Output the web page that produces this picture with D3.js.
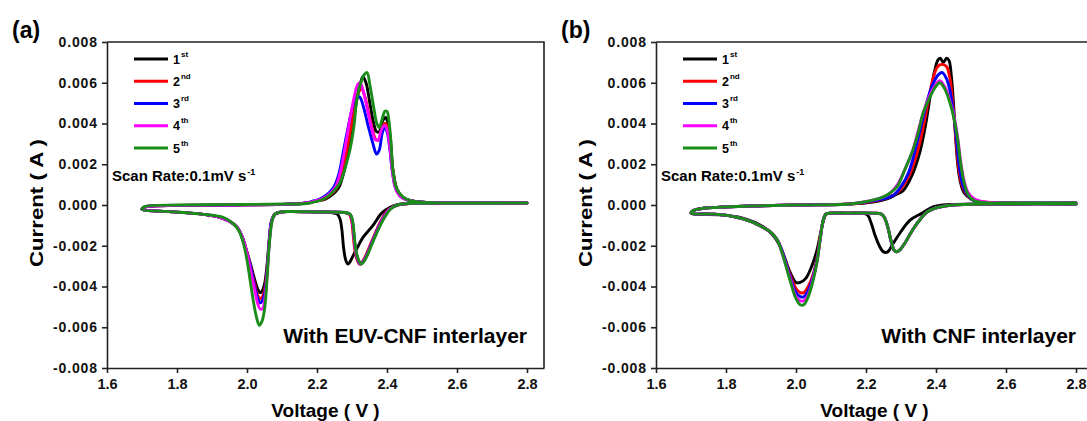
<!DOCTYPE html>
<meta charset="utf-8">
<title>CV curves - EUV-CNF vs CNF interlayer</title>
<style>

body { margin: 0; background: #fff; }

svg {
  display: block;
  font-family: "Liberation Sans", Arial, sans-serif;
  font-weight: bold;
}

.axis path,
.axis line {
  stroke: #222;
  stroke-width: 1.6;
}

.axis text {
  fill: #111;
  font-family: "Liberation Sans", Arial, sans-serif;
  font-weight: bold;
}

.cv {
  fill: none;
  stroke-width: 2.9;
  stroke-linejoin: round;
  stroke-linecap: round;
}

</style>

<body>
<div id="chart"></div>

<!-- load the d3.js library -->
<script src="https://d3js.org/d3.v7.min.js"></script>
<script>

// ticks and legend
var voltTicks = [1.6, 1.8, 2.0, 2.2, 2.4, 2.6, 2.8];
var currTicks = [-0.008, -0.006, -0.004, -0.002, 0.000, 0.002, 0.004, 0.006, 0.008];
var cycleNum = ["1", "2", "3", "4", "5"];
var cycleSup = ["st", "nd", "rd", "th", "th"];
var cycleColor = ["#000000", "#ff0000", "#0000ff", "#ff00ff", "#1a8c1a"];

// (a) EUV-CNF interlayer : cathodic scans (2.8 -> 1.7 V), [V, A]
var aCath1 = [[2.80, 0.0001], [2.60, 0.0001], [2.47, 0.00008], [2.43, 0.00002], [2.41, -0.0001], [2.385, -0.0004], [2.36, -0.001], [2.331, -0.0016], [2.315, -0.0021], [2.303, -0.0025], [2.294, -0.0028], [2.288, -0.0029], [2.282, -0.0027], [2.276, -0.0021], [2.271, -0.0012], [2.266, -0.0007], [2.258, -0.00045], [2.24, -0.00037], [2.2, -0.00034], [2.12, -0.00032], [2.095, -0.00035], [2.08, -0.00045], [2.07, -0.0008], [2.064, -0.0016], [2.058, -0.0028], [2.051, -0.0038], [2.044, -0.0042], [2.037, -0.0043], [2.03, -0.0041], [2.021, -0.0036], [2.01, -0.0029], [1.998, -0.0022], [1.987, -0.0016], [1.972, -0.0011], [1.95, -0.0008], [1.92, -0.0006], [1.87, -0.00045], [1.80, -0.00035], [1.75, -0.0003], [1.70, -0.00022]];
var aCath2 = [[2.80, 0.0001], [2.60, 0.0001], [2.47, 0.00008], [2.43, 0.0], [2.405, -0.0002], [2.385, -0.0007], [2.366, -0.0014], [2.351, -0.002], [2.339, -0.0025], [2.329, -0.0028], [2.322, -0.0029], [2.315, -0.0027], [2.308, -0.0022], [2.303, -0.0014], [2.299, -0.0008], [2.292, -0.00045], [2.278, -0.00037], [2.2, -0.00034], [2.12, -0.00032], [2.095, -0.00035], [2.08, -0.00045], [2.07, -0.0008], [2.064, -0.0017], [2.058, -0.003], [2.051, -0.0041], [2.044, -0.0045], [2.037, -0.0046], [2.03, -0.0044], [2.021, -0.0038], [2.01, -0.003], [1.998, -0.0022], [1.987, -0.0016], [1.972, -0.0011], [1.95, -0.0008], [1.92, -0.0006], [1.87, -0.00045], [1.80, -0.00035], [1.75, -0.0003], [1.70, -0.00022]];
var aCath3 = [[2.80, 0.0001], [2.60, 0.0001], [2.47, 0.00008], [2.43, 0.0], [2.407, -0.0002], [2.387, -0.0007], [2.368, -0.0014], [2.353, -0.002], [2.341, -0.0025], [2.331, -0.0028], [2.324, -0.0029], [2.317, -0.0027], [2.31, -0.0022], [2.305, -0.0014], [2.301, -0.0008], [2.294, -0.00045], [2.28, -0.00037], [2.2, -0.00034], [2.12, -0.00032], [2.095, -0.00035], [2.08, -0.00045], [2.07, -0.0008], [2.064, -0.0017], [2.058, -0.0031], [2.051, -0.0043], [2.044, -0.0047], [2.038, -0.0048], [2.031, -0.0046], [2.022, -0.004], [2.011, -0.0031], [1.999, -0.0023], [1.987, -0.0016], [1.972, -0.0011], [1.95, -0.0008], [1.92, -0.0006], [1.87, -0.00045], [1.80, -0.00035], [1.75, -0.0003], [1.70, -0.00022]];
var aCath4 = [[2.80, 0.0001], [2.60, 0.0001], [2.47, 0.00008], [2.43, 0.0], [2.408, -0.0002], [2.388, -0.0007], [2.369, -0.0014], [2.354, -0.002], [2.342, -0.0025], [2.332, -0.0028], [2.325, -0.0029], [2.318, -0.0027], [2.31, -0.0022], [2.305, -0.0014], [2.301, -0.0008], [2.294, -0.00045], [2.28, -0.00037], [2.2, -0.00034], [2.12, -0.00032], [2.095, -0.00035], [2.08, -0.00045], [2.07, -0.0009], [2.064, -0.0018], [2.058, -0.0033], [2.051, -0.0046], [2.044, -0.0051], [2.037, -0.0051], [2.03, -0.0048], [2.021, -0.0041], [2.01, -0.0032], [1.999, -0.0023], [1.987, -0.0016], [1.972, -0.0011], [1.95, -0.0008], [1.92, -0.0006], [1.87, -0.00045], [1.80, -0.00035], [1.75, -0.0003], [1.70, -0.00022]];
var aCath5 = [[2.80, 0.0001], [2.60, 0.0001], [2.47, 0.00008], [2.43, 0.0], [2.41, -0.0002], [2.39, -0.0007], [2.37, -0.0014], [2.355, -0.002], [2.343, -0.0025], [2.333, -0.0028], [2.326, -0.0029], [2.319, -0.0027], [2.311, -0.0022], [2.306, -0.0014], [2.302, -0.0008], [2.295, -0.00045], [2.28, -0.00037], [2.2, -0.00034], [2.12, -0.00032], [2.095, -0.00035], [2.08, -0.00045], [2.073, -0.0007], [2.068, -0.0012], [2.062, -0.0023], [2.057, -0.0037], [2.051, -0.005], [2.043, -0.0057], [2.035, -0.0059], [2.027, -0.0055], [2.018, -0.0047], [2.009, -0.0037], [2.0, -0.0027], [1.99, -0.0019], [1.978, -0.0013], [1.96, -0.0009], [1.93, -0.0006], [1.87, -0.00045], [1.80, -0.00035], [1.75, -0.0003], [1.70, -0.00022]];

// (a) anodic scans (1.7 -> 2.8 V)
var aAnod1 = [[1.70, -0.00022], [1.705, -0.00012], [1.72, -0.00006], [1.80, -0.00002], [1.95, 0.0], [2.10, 0.00003], [2.17, 0.0001], [2.2, 0.0002], [2.225, 0.0003], [2.26, 0.0008], [2.275, 0.0015], [2.288, 0.0025], [2.3, 0.0037], [2.312, 0.005], [2.323, 0.0059], [2.331, 0.0063], [2.34, 0.006], [2.351, 0.005], [2.362, 0.004], [2.37, 0.0036], [2.378, 0.0036], [2.387, 0.0041], [2.396, 0.0043], [2.403, 0.004], [2.41, 0.0032], [2.417, 0.0017], [2.428, 0.0008], [2.444, 0.0004], [2.47, 0.0002], [2.55, 0.0001], [2.80, 0.0001]];
var aAnod2 = [[1.70, -0.00022], [1.705, -0.00012], [1.72, -0.00006], [1.80, -0.00002], [1.95, 0.0], [2.10, 0.00003], [2.17, 0.0001], [2.2, 0.0002], [2.22, 0.0003], [2.255, 0.0008], [2.27, 0.0015], [2.283, 0.0025], [2.297, 0.0038], [2.31, 0.005], [2.321, 0.0056], [2.328, 0.0057], [2.337, 0.0053], [2.349, 0.0044], [2.36, 0.0036], [2.369, 0.0032], [2.377, 0.0032], [2.386, 0.0038], [2.395, 0.004], [2.402, 0.0038], [2.409, 0.003], [2.417, 0.0017], [2.427, 0.0008], [2.442, 0.0004], [2.47, 0.0002], [2.55, 0.0001], [2.80, 0.0001]];
var aAnod3 = [[1.70, -0.00022], [1.705, -0.00012], [1.72, -0.00006], [1.80, -0.00002], [1.95, 0.0], [2.10, 0.00003], [2.17, 0.0001], [2.19, 0.0002], [2.21, 0.0003], [2.245, 0.0008], [2.262, 0.0015], [2.275, 0.0026], [2.29, 0.0039], [2.303, 0.0049], [2.314, 0.0053], [2.322, 0.0053], [2.333, 0.0048], [2.346, 0.0039], [2.36, 0.003], [2.37, 0.0025], [2.378, 0.0027], [2.386, 0.0035], [2.393, 0.0038], [2.4, 0.0036], [2.407, 0.0029], [2.415, 0.0017], [2.425, 0.0008], [2.44, 0.0004], [2.47, 0.0002], [2.55, 0.0001], [2.80, 0.0001]];
var aAnod4 = [[1.70, -0.00022], [1.705, -0.00012], [1.72, -0.00006], [1.80, -0.00002], [1.95, 0.0], [2.10, 0.00003], [2.17, 0.0001], [2.195, 0.0002], [2.215, 0.0003], [2.25, 0.0008], [2.265, 0.0015], [2.278, 0.0026], [2.292, 0.004], [2.305, 0.0052], [2.316, 0.0059], [2.323, 0.006], [2.332, 0.0056], [2.344, 0.0047], [2.357, 0.0037], [2.367, 0.0032], [2.375, 0.0032], [2.384, 0.0037], [2.393, 0.0039], [2.4, 0.0037], [2.407, 0.003], [2.415, 0.0017], [2.425, 0.0008], [2.44, 0.0004], [2.47, 0.0002], [2.55, 0.0001], [2.80, 0.0001]];
var aAnod5 = [[1.70, -0.00022], [1.705, -0.0001], [1.72, -0.00004], [1.80, 0.0], [1.95, 0.00002], [2.10, 0.00005], [2.18, 0.0001], [2.229, 0.0004], [2.266, 0.0011], [2.28, 0.0018], [2.294, 0.0027], [2.305, 0.0038], [2.314, 0.0052], [2.325, 0.006], [2.335, 0.0064], [2.343, 0.0065], [2.352, 0.0058], [2.363, 0.0047], [2.371, 0.004], [2.378, 0.0038], [2.386, 0.0042], [2.394, 0.0046], [2.4, 0.0046], [2.405, 0.0042], [2.41, 0.0034], [2.417, 0.0017], [2.428, 0.0008], [2.445, 0.0004], [2.47, 0.0002], [2.55, 0.0001], [2.80, 0.0001]];

// (b) CNF interlayer : cathodic scans
var bCath1 = [[2.80, 0.00005], [2.6, 0.00005], [2.42, 0.0], [2.39, -0.0001], [2.36, -0.0004], [2.326, -0.00074], [2.3, -0.0013], [2.277, -0.0019], [2.262, -0.0023], [2.25, -0.0023], [2.238, -0.002], [2.226, -0.0015], [2.215, -0.0009], [2.205, -0.0005], [2.19, -0.0004], [2.15, -0.0004], [2.1, -0.0004], [2.086, -0.00045], [2.078, -0.0008], [2.07, -0.0014], [2.06, -0.0022], [2.045, -0.003], [2.028, -0.0036], [2.012, -0.0038], [2.0, -0.0038], [1.983, -0.0033], [1.954, -0.002], [1.93, -0.0014], [1.9, -0.001], [1.86, -0.0007], [1.8, -0.0005], [1.70, -0.0004]];
var bCath2 = [[2.80, 0.00005], [2.6, 0.00005], [2.45, 0.0], [2.41, -0.0001], [2.39, -0.0002], [2.374, -0.00035], [2.355, -0.0007], [2.334, -0.0012], [2.31, -0.0019], [2.297, -0.0022], [2.288, -0.0023], [2.28, -0.0022], [2.272, -0.0018], [2.264, -0.0012], [2.255, -0.0007], [2.245, -0.00045], [2.22, -0.0004], [2.15, -0.0004], [2.1, -0.0004], [2.085, -0.00045], [2.077, -0.0008], [2.069, -0.0016], [2.06, -0.0026], [2.049, -0.0034], [2.035, -0.004], [2.022, -0.0043], [2.012, -0.0043], [2.0, -0.0041], [1.983, -0.0034], [1.963, -0.0024], [1.946, -0.0017], [1.925, -0.0013], [1.906, -0.0011], [1.87, -0.0008], [1.831, -0.0006], [1.77, -0.00045], [1.70, -0.0004]];
var bCath3 = [[2.80, 0.00005], [2.6, 0.00005], [2.45, 0.0], [2.41, -0.0001], [2.39, -0.0002], [2.374, -0.00035], [2.355, -0.0007], [2.334, -0.0012], [2.31, -0.0019], [2.297, -0.0022], [2.288, -0.0023], [2.28, -0.0022], [2.272, -0.0018], [2.264, -0.0012], [2.255, -0.0007], [2.245, -0.00045], [2.22, -0.0004], [2.15, -0.0004], [2.1, -0.0004], [2.085, -0.00045], [2.077, -0.0008], [2.069, -0.0017], [2.06, -0.0027], [2.049, -0.0035], [2.035, -0.0042], [2.022, -0.0045], [2.012, -0.0045], [2.0, -0.0043], [1.983, -0.0035], [1.963, -0.0024], [1.946, -0.0017], [1.925, -0.0013], [1.906, -0.0011], [1.87, -0.0008], [1.831, -0.0006], [1.77, -0.00045], [1.70, -0.0004]];
var bCath4 = [[2.80, 0.00005], [2.6, 0.00005], [2.45, 0.0], [2.41, -0.0001], [2.39, -0.0002], [2.374, -0.00035], [2.355, -0.0007], [2.334, -0.0012], [2.31, -0.0019], [2.297, -0.0022], [2.288, -0.0023], [2.28, -0.0022], [2.272, -0.0018], [2.264, -0.0012], [2.255, -0.0007], [2.245, -0.00045], [2.22, -0.0004], [2.15, -0.0004], [2.1, -0.0004], [2.085, -0.00045], [2.077, -0.0008], [2.069, -0.0017], [2.06, -0.0028], [2.049, -0.0036], [2.035, -0.0044], [2.022, -0.0047], [2.012, -0.0047], [2.0, -0.0045], [1.983, -0.0036], [1.963, -0.0025], [1.946, -0.0017], [1.925, -0.0013], [1.906, -0.0011], [1.87, -0.0008], [1.831, -0.0006], [1.77, -0.00045], [1.70, -0.0004]];
var bCath5 = [[2.80, 0.00005], [2.6, 0.00005], [2.45, 0.0], [2.41, -0.0001], [2.39, -0.0002], [2.374, -0.00035], [2.355, -0.0007], [2.334, -0.0012], [2.31, -0.0019], [2.297, -0.0022], [2.288, -0.0023], [2.28, -0.0022], [2.272, -0.0018], [2.264, -0.0012], [2.255, -0.0007], [2.245, -0.00045], [2.22, -0.0004], [2.15, -0.0004], [2.1, -0.0004], [2.085, -0.00045], [2.077, -0.0008], [2.069, -0.0017], [2.06, -0.0028], [2.049, -0.0037], [2.035, -0.0045], [2.022, -0.0049], [2.012, -0.0049], [2.0, -0.0046], [1.983, -0.0037], [1.963, -0.0025], [1.946, -0.0017], [1.925, -0.0013], [1.906, -0.0011], [1.87, -0.0008], [1.831, -0.0006], [1.77, -0.00045], [1.70, -0.0004]];

// (b) anodic scans
var bAnod1 = [[1.70, -0.0004], [1.71, -0.00025], [1.74, -0.00015], [1.774, -0.00012], [1.87, -0.00005], [2.0, 0.0], [2.154, 0.00005], [2.22, 0.00015], [2.26, 0.0003], [2.285, 0.0005], [2.306, 0.0007], [2.33, 0.0014], [2.354, 0.0026], [2.37, 0.0039], [2.383, 0.0053], [2.395, 0.0065], [2.405, 0.0071], [2.412, 0.0072], [2.421, 0.007], [2.43, 0.0072], [2.437, 0.0071], [2.444, 0.0063], [2.45, 0.005], [2.455, 0.0036], [2.462, 0.002], [2.47, 0.0011], [2.48, 0.0006], [2.5, 0.0003], [2.53, 0.00015], [2.6, 0.0001], [2.8, 0.0001]];
var bAnod2 = [[1.70, -0.0004], [1.71, -0.00025], [1.74, -0.00015], [1.774, -0.00012], [1.87, -0.00005], [2.0, 0.0], [2.154, 0.00005], [2.22, 0.00018], [2.26, 0.00035], [2.28, 0.0005], [2.3, 0.0008], [2.325, 0.0015], [2.35, 0.0028], [2.367, 0.0041], [2.38, 0.0053], [2.393, 0.0063], [2.405, 0.0068], [2.418, 0.0069], [2.43, 0.0068], [2.44, 0.0062], [2.448, 0.005], [2.455, 0.0036], [2.463, 0.0021], [2.472, 0.0011], [2.484, 0.0006], [2.5, 0.0003], [2.53, 0.00015], [2.6, 0.0001], [2.8, 0.0001]];
var bAnod3 = [[1.70, -0.0004], [1.71, -0.00025], [1.74, -0.00015], [1.774, -0.00012], [1.87, -0.00005], [2.0, 0.0], [2.154, 0.00005], [2.22, 0.0002], [2.26, 0.00035], [2.28, 0.0005], [2.3, 0.0009], [2.322, 0.0016], [2.345, 0.003], [2.362, 0.0042], [2.378, 0.0053], [2.393, 0.006], [2.407, 0.0064], [2.418, 0.0065], [2.43, 0.0062], [2.44, 0.0056], [2.45, 0.0045], [2.458, 0.0033], [2.466, 0.002], [2.476, 0.001], [2.49, 0.0005], [2.51, 0.0002], [2.55, 0.0001], [2.6, 0.0001], [2.8, 0.0001]];
var bAnod4 = [[1.70, -0.0004], [1.71, -0.00025], [1.74, -0.00015], [1.774, -0.00012], [1.87, -0.00005], [2.0, 0.0], [2.154, 0.00005], [2.21, 0.0002], [2.25, 0.0004], [2.27, 0.0006], [2.29, 0.001], [2.315, 0.0019], [2.334, 0.0027], [2.35, 0.0037], [2.365, 0.0046], [2.38, 0.0053], [2.395, 0.0058], [2.411, 0.0061], [2.425, 0.0058], [2.44, 0.0051], [2.452, 0.0043], [2.462, 0.0033], [2.47, 0.0022], [2.48, 0.0012], [2.492, 0.0006], [2.51, 0.0003], [2.54, 0.00015], [2.6, 0.0001], [2.8, 0.0001]];
var bAnod5 = [[1.70, -0.0004], [1.71, -0.00025], [1.74, -0.00015], [1.774, -0.00012], [1.87, -0.00005], [2.0, 0.0], [2.154, 0.00005], [2.21, 0.0002], [2.25, 0.0004], [2.27, 0.0006], [2.289, 0.0009], [2.31, 0.0017], [2.334, 0.0027], [2.35, 0.0036], [2.363, 0.0045], [2.38, 0.0052], [2.395, 0.0057], [2.411, 0.006], [2.425, 0.0057], [2.44, 0.005], [2.452, 0.0042], [2.462, 0.0032], [2.47, 0.0021], [2.48, 0.0011], [2.492, 0.0005], [2.51, 0.0002], [2.55, 0.0001], [2.6, 0.0001], [2.8, 0.0001]];

// each cycle is a closed loop: cathodic scan then anodic scan
var loopsA = [[aCath1, aAnod1], [aCath2, aAnod2], [aCath3, aAnod3], [aCath4, aAnod4], [aCath5, aAnod5]];
var loopsB = [[bCath1, bAnod1], [bCath2, bAnod2], [bCath3, bAnod3], [bCath4, bAnod4], [bCath5, bAnod5]];

// set the dimensions of the page and of each plot box
var width = 1087, height = 421,
    boxW = 437, boxH = 326;

var svg = d3.select("#chart").append("svg")
    .attr("width", width)
    .attr("height", height);

// scales (box runs a little past 2.8 V on the right)
var x = d3.scaleLinear().domain([1.6, 1.6 + boxW / 350]).range([0, boxW]);
var y = d3.scaleLinear().domain([-0.008, 0.008]).range([boxH, 0]);

var fmtCurrent = function(d) { return d3.format(".3f")(d).replace("\u2212", "-"); };

var line = d3.line()
    .x(function(d) { return x(d[0]); })
    .y(function(d) { return y(d[1]); })
    .curve(d3.curveCatmullRom.alpha(0.5));

function drawPanel(left, top, label, note, loops) {

    var g = svg.append("g")
        .attr("transform", "translate(" + left + "," + top + ")");

    // cv loops, 1st cycle underneath
    g.selectAll(".cv")
        .data(loops)
        .enter().append("path")
        .attr("class", "cv")
        .attr("stroke", function(d, i) { return cycleColor[i]; })
        .attr("d", function(d) { return line(d[0].concat(d[1].slice(1))); });

    // left axis
    var yAxis = g.append("g")
        .attr("class", "axis")
        .call(d3.axisLeft(y)
            .tickValues(currTicks)
            .tickSize(5)
            .tickSizeOuter(0)
            .tickPadding(4)
            .tickFormat(fmtCurrent));
    yAxis.selectAll("text")
        .style("font-size", "14px")
        .style("letter-spacing", "0.9px");

    // bottom axis
    var xAxis = g.append("g")
        .attr("class", "axis")
        .attr("transform", "translate(0," + boxH + ")")
        .call(d3.axisBottom(x)
            .tickValues(voltTicks)
            .tickSize(5)
            .tickSizeOuter(0)
            .tickPadding(6)
            .tickFormat(d3.format(".1f")));
    xAxis.selectAll("text")
        .style("font-size", "14.5px");

    // top and right frame
    g.append("path")
        .attr("d", "M0,0H" + boxW + "V" + boxH)
        .attr("fill", "none")
        .attr("stroke", "#222")
        .attr("stroke-width", 1.6);

    // axis titles
    g.append("text")
        .attr("transform", "translate(-64," + (boxH / 2 - 2) + ") rotate(-90)")
        .attr("text-anchor", "middle")
        .attr("textLength", 128)
        .attr("lengthAdjust", "spacingAndGlyphs")
        .style("font-size", "18px")
        .text("Current ( A )");

    g.append("text")
        .attr("x", boxW / 2)
        .attr("y", 375)
        .attr("text-anchor", "middle")
        .style("font-size", "19px")
        .text("Voltage ( V )");

    // panel label
    g.append("text")
        .attr("x", -95)
        .attr("y", -4)
        .style("font-size", "23px")
        .text(label);

    // legend
    var leg = g.selectAll(".leg")
        .data(cycleNum)
        .enter().append("g")
        .attr("class", "leg")
        .attr("transform", function(d, i) { return "translate(0," + (17 + i * 22.25) + ")"; });

    leg.append("line")
        .attr("x1", 27)
        .attr("x2", 61)
        .attr("stroke", function(d, i) { return cycleColor[i]; })
        .attr("stroke-width", 3);

    var lt = leg.append("text")
        .attr("x", 66)
        .attr("y", 4.5)
        .style("font-size", "12.5px");
    lt.append("tspan").text(function(d) { return d; });
    lt.append("tspan")
        .attr("dy", -7)
        .attr("dx", 1)
        .style("font-size", "8px")
        .text(function(d, i) { return cycleSup[i]; });

    // scan rate note
    var sr = g.append("text")
        .attr("x", 5)
        .attr("y", 139)
        .style("font-size", "15px");
    sr.append("tspan").text("Scan Rate:0.1mV s");
    sr.append("tspan")
        .attr("dy", -6)
        .attr("dx", 1)
        .style("font-size", "9px")
        .text("-1");

    // sample note
    g.append("text")
        .attr("x", x(2.8))
        .attr("y", 301)
        .attr("text-anchor", "end")
        .style("font-size", "21px")
        .text(note);
}

drawPanel(107, 42, "(a)", "With EUV-CNF interlayer", loopsA);
drawPanel(656, 42, "(b)", "With CNF interlayer", loopsB);

</script>
</body>
